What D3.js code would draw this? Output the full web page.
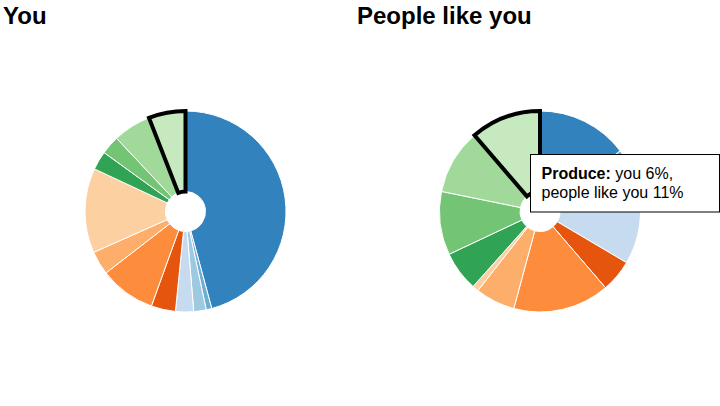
<!DOCTYPE html>
<html>
<head>
<meta charset="utf-8">
<script src="https://cdn.jsdelivr.net/npm/d3@7"></script>
<style>
  html, body { margin: 0; padding: 0; background: #fff; }
  svg { display: block; }
  text { font-family: "Liberation Sans", Arial, Helvetica, sans-serif; }
</style>
</head>
<body>
<svg id="chart" width="720" height="406"></svg>
<script>
// ---- data ----
const categories = ["Beverages", "Bakery", "Deli", "Frozen", "Meat", "Snacks",
  "Dairy", "Pantry", "Household", "Personal care", "Seafood", "Produce"];
const youValues    = [45.7, 0.9, 2.0, 2.9, 3.9, 9.0, 3.8, 13.6, 3.0, 3.0, 6.1, 5.9];
const peopleValues = [14.7, 2.5, 3.5, 12.8, 5.2, 15.5, 6.4, 1.0, 6.4, 10.2, 10.5, 11.3];
const colors = ["#3182bd", "#6baed6", "#9ecae1", "#c6dbef",
  "#e6550d", "#fd8d3c", "#fdae6b", "#fdd0a2",
  "#31a354", "#74c476", "#a1d99b", "#c7e9c0"];
const titles = ["You", "People like you"];
const selected = "Produce";

// ---- drawing ----
const svg = d3.select("#chart");
const color = d3.scaleOrdinal().domain(categories).range(colors);
const pie = d3.pie().sort(null).value(d => d.value);
const arc = d3.arc().innerRadius(20).outerRadius(100.5);

const panels = [
  { title: titles[0], values: youValues, tx: 3, cx: 185.5, cy: 211.5 },
  { title: titles[1], values: peopleValues, tx: 357, cx: 540, cy: 211.5 }
];

panels.forEach(p => {
  svg.append("text")
    .attr("x", p.tx).attr("y", 24)
    .attr("font-size", 24).attr("font-weight", "bold")
    .attr("fill", "#000")
    .text(p.title);

  const data = categories.map((c, i) => ({ category: c, value: p.values[i] }));
  const g = svg.append("g").attr("transform", `translate(${p.cx},${p.cy})`);
  const arcs = pie(data);
  g.selectAll("path.slice")
    .data(arcs)
    .join("path")
    .attr("class", "slice")
    .attr("d", arc)
    .attr("fill", d => color(d.data.category))
    .attr("stroke", "#fff")
    .attr("stroke-width", 1);
  // highlighted slice on top
  g.selectAll("path.sel")
    .data(arcs.filter(d => d.data.category === selected))
    .join("path")
    .attr("class", "sel")
    .attr("d", arc)
    .attr("fill", d => color(d.data.category))
    .attr("stroke", "#000")
    .attr("stroke-width", 4)
    .attr("stroke-linejoin", "miter");
});

// tooltip
const si = categories.indexOf(selected);
const tip = svg.append("g").attr("transform", "translate(530.5,154.5)");
tip.append("rect")
  .attr("width", 189).attr("height", 57.5)
  .attr("fill", "#fff").attr("stroke", "#000").attr("stroke-width", 1);
const t1 = tip.append("text").attr("x", 11).attr("y", 24).attr("font-size", 16).attr("fill", "#000");
t1.append("tspan").attr("font-weight", "bold").text(selected + ":");
t1.append("tspan").text(` you ${Math.round(youValues[si])}%,`);
tip.append("text").attr("x", 11).attr("y", 43.5).attr("font-size", 16).attr("fill", "#000")
  .text(`people like you ${Math.round(peopleValues[si])}%`);
</script>
</body>
</html>
